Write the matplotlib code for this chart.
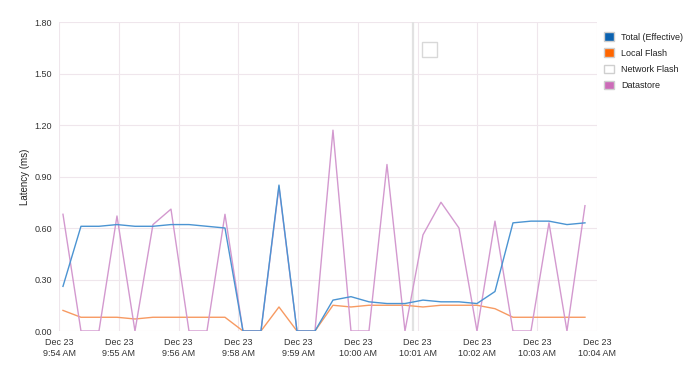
import numpy as np
import matplotlib.pyplot as plt
from matplotlib.patches import Patch, Rectangle

plt.rcParams['font.family'] = ['Liberation Sans', 'DejaVu Sans']

# samples (20 s apart)
total = [0.26, 0.61, 0.61, 0.62, 0.61, 0.61, 0.62, 0.62, 0.61, 0.60,
         0.00, 0.00, 0.85, 0.00, 0.00, 0.18, 0.20, 0.17, 0.16, 0.16,
         0.18, 0.17, 0.17, 0.16, 0.23, 0.63, 0.64, 0.64, 0.62, 0.63]
local_flash = [0.12, 0.08, 0.08, 0.08, 0.07, 0.08, 0.08, 0.08, 0.08, 0.08,
               0.00, 0.00, 0.14, 0.00, 0.00, 0.15, 0.14, 0.15, 0.15, 0.15,
               0.14, 0.15, 0.15, 0.15, 0.13, 0.08, 0.08, 0.08, 0.08, 0.08]
datastore = [0.68, 0.00, 0.00, 0.67, 0.00, 0.62, 0.71, 0.00, 0.00, 0.68,
             0.00, 0.00, 0.84, 0.00, 0.00, 1.17, 0.00, 0.00, 0.97, 0.00,
             0.56, 0.75, 0.60, 0.00, 0.64, 0.00, 0.00, 0.63, 0.00, 0.73]
tick_labels = ['Dec 23\n9:54 AM', 'Dec 23\n9:55 AM', 'Dec 23\n9:56 AM',
               'Dec 23\n9:58 AM', 'Dec 23\n9:59 AM', 'Dec 23\n10:00 AM',
               'Dec 23\n10:01 AM', 'Dec 23\n10:02 AM', 'Dec 23\n10:03 AM',
               'Dec 23\n10:04 AM']
y_ticks = [0.0, 0.3, 0.6, 0.9, 1.2, 1.5, 1.8]

x = np.arange(len(total))

fig = plt.figure(figsize=(7, 3.7), dpi=100)
ax = fig.add_axes([0.0843, 0.1054, 0.7686, 0.8351])

ax.plot(x, local_flash, color='#f79a62', lw=1.0, zorder=3)
ax.plot(x, total, color='#4b94d2', lw=1.0, zorder=4)
ax.plot(x, datastore, color='#d399cf', lw=1.0, zorder=3)

xmin, xmax = -0.22, 29.67
ax.set_xlim(xmin, xmax)
ax.set_ylim(0, 1.8)
ax.set_xticks(np.linspace(xmin, xmax, len(tick_labels)))
ax.set_xticklabels(tick_labels, fontsize=6.5, color='#333333', linespacing=1.3)
ax.set_yticks(y_ticks)
ax.set_yticklabels(['%.2f' % v for v in y_ticks], fontsize=6.5, color='#333333')
ax.tick_params(length=0, pad=5)
ax.grid(True, color='#efe6ec', lw=0.8)
ax.set_axisbelow(True)
for s in ax.spines.values():
    s.set_visible(False)
ax.set_ylabel('Latency (ms)', fontsize=7, color='#222222', labelpad=3)

# hover cursor line
ax.axvline(19.44, color='#e2e2e2', lw=1.6, zorder=2)
fig.patches.append(Rectangle((422 / 700, 1 - 57 / 370), 15 / 700, 15 / 370,
                             transform=fig.transFigure, facecolor='white',
                             edgecolor='#d8d8d8', lw=1))

handles = [Patch(facecolor='#0b62b0', edgecolor='#cfcfcf', label='Total (Effective)'),
           Patch(facecolor='#ff6600', edgecolor='#cfcfcf', label='Local Flash'),
           Patch(facecolor='white', edgecolor='#cfcfcf', label='Network Flash'),
           Patch(facecolor='#cc6bb8', edgecolor='#cfcfcf', label='Datastore')]
fig.legend(handles=handles, loc='upper left', bbox_to_anchor=(0.851, 0.935),
           frameon=False, fontsize=6.5, handlelength=1.1, handleheight=1.1,
           handletextpad=0.8, labelspacing=0.75, labelcolor='#222222')

fig.savefig('out.png', dpi=100)
